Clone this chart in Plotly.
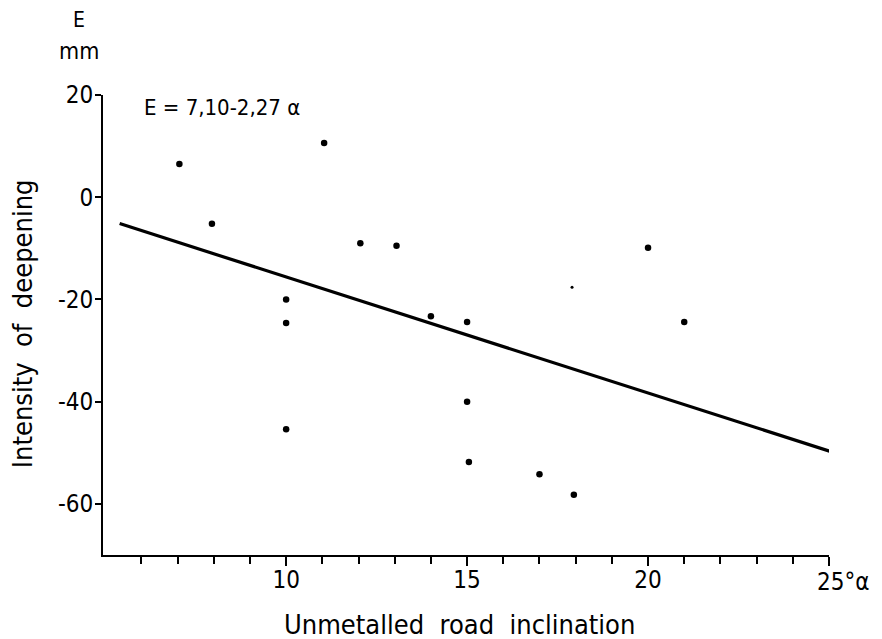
import plotly.graph_objects as go

# Data
inclination = [7.05, 7.95, 11.05, 12.05, 13.05, 10.0, 10.0, 10.0, 14.0, 15.0, 15.0, 15.05, 17.0, 17.95, 20.0, 21.0]
deepening = [6.5, -5.2, 10.6, -9.0, -9.5, -20.0, -24.6, -45.4, -23.3, -24.4, -40.0, -51.8, -54.2, -58.2, -9.9, -24.4]
faint_x = [17.9]
faint_y = [-17.6]

intercept = 7.10
slope = -2.27
fit_x = [5.4, 25.1]
fit_y = [intercept + slope * v for v in fit_x]

x_major = [10, 15, 20, 25]
x_major_text = ["10", "15", "20", ""]
x_minor = [v for v in range(6, 25) if v not in (10, 15, 20)]
y_tickvals = [20, 0, -20, -40, -60]
y_ticktext = ["20", "0", "-20", "-40", "-60"]

FONT = "DejaVu Sans Condensed, Liberation Sans Narrow, DejaVu Sans, sans-serif"

fig = go.Figure()
fig.add_trace(go.Scatter(x=fit_x, y=fit_y, mode="lines", cliponaxis=False,
                         line=dict(color="black", width=3.2), hoverinfo="skip"))
fig.add_trace(go.Scatter(x=inclination, y=deepening, mode="markers",
                         marker=dict(color="black", size=6.5)))
fig.add_trace(go.Scatter(x=faint_x, y=faint_y, mode="markers",
                         marker=dict(color="black", size=3)))

def note(text, x, y, size, **kw):
    d = dict(text=text, xref="paper", yref="paper", x=x, y=y, showarrow=False,
             xanchor="center", yanchor="middle", font=dict(size=size))
    d.update(kw)
    return d

fig.update_layout(
    width=882, height=639,
    margin=dict(l=95, r=61, t=87, b=92),
    paper_bgcolor="white", plot_bgcolor="white",
    showlegend=False,
    font=dict(family=FONT, color="black", size=21),
    xaxis=dict(range=[4.94, 25.0], tickvals=x_major, ticktext=x_major_text,
               showgrid=False, zeroline=False, showline=True, linecolor="black", linewidth=2,
               ticks="outside", ticklen=9, tickwidth=1.5, tickcolor="black",
               minor=dict(tickvals=x_minor, ticks="outside", ticklen=7, tickwidth=1.5,
                          tickcolor="black", showgrid=False),
               ticklabelstandoff=-7,
               tickfont=dict(family=FONT, size=24), automargin=False),
    yaxis=dict(range=[-70, 20], tickvals=y_tickvals, ticktext=y_ticktext,
               showgrid=False, zeroline=False, showline=True, linecolor="black", linewidth=2,
               ticks="outside", ticklen=6, tickwidth=1.5, tickcolor="black",
               ticklabelstandoff=-3,
               tickfont=dict(family=FONT, size=24), automargin=False),
    annotations=[
        note("E", -0.0331, 1.164, 21),
        note("mm", -0.0331, 1.0946, 23),
        note("E = 7,10-2,27 α", 0.0537, 0.972, 22, xanchor="left"),
        dict(text="25°α", xref="x", yref="paper", x=25, y=-0.0587, xanchor="left",
             yanchor="middle", xshift=-14, showarrow=False, font=dict(size=24)),
        note("Intensity  of  deepening", -0.1116, 0.504, 27, textangle=-90),
        note("Unmetalled  road  inclination", 0.4917, -0.152, 27),
    ],
)

fig.write_html("out.html")
